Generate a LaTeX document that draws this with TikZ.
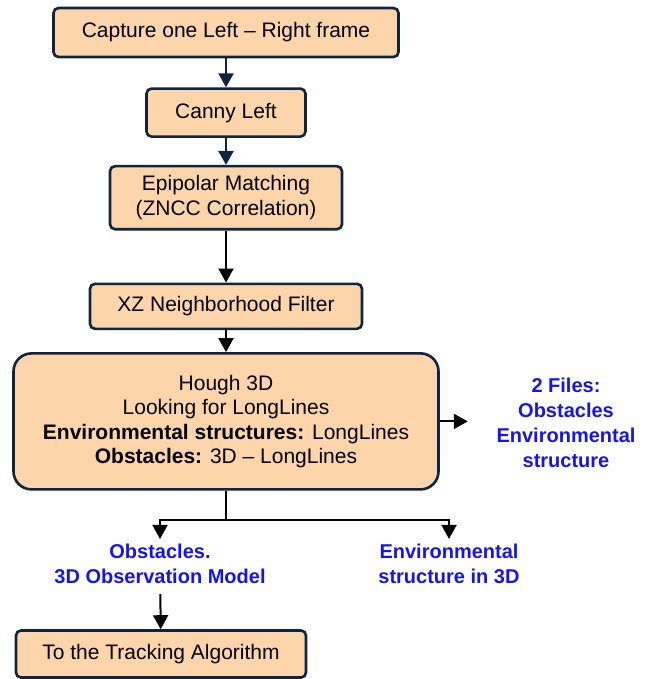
\documentclass[tikz,border=0pt]{standalone}
\usepackage{fontspec}
\setmainfont{Liberation Sans}
\usetikzlibrary{arrows.meta,positioning}

\definecolor{peach}{RGB}{252,214,170}
\definecolor{navy}{RGB}{16,36,64}
\definecolor{outblue}{RGB}{20,20,235}

\begin{document}
\begin{tikzpicture}[x=1pt,y=1pt,>={Triangle[length=14pt,width=15pt]},
                    node distance=27pt]
  \tikzstyle{box}=[rectangle,draw=navy,fill=peach,line width=2.6pt,rounded corners=5pt,
                   align=center,inner sep=0pt,font=\fontsize{21}{24.5}\selectfont]
  \tikzstyle{result}=[align=center,inner sep=0pt,text=outblue,
                      font=\fontsize{20}{25}\selectfont\bfseries]
  \tikzstyle{flow}=[->,draw=navy,line width=2.5pt]
  \tikzstyle{branch}=[->,draw=black,line width=2pt]

  \useasboundingbox (0,0) rectangle (646,-679);

  \node[box,minimum width=345pt,minimum height=49pt] (capture) at (226,-32.5)
       {Capture one Left – Right frame};
  \node[box,minimum width=159pt,minimum height=48pt] (canny) [below=29pt of capture] {Canny Left};
  \node[box,minimum width=232pt,minimum height=63pt] (epipolar) [below=of canny]
       {Epipolar Matching\\(ZNCC Correlation)};
  \node[box,minimum width=272pt,minimum height=45pt] (xz) [below=52pt of epipolar]
       {XZ Neighborhood Filter};
  \node[box,minimum width=425pt,minimum height=136pt,rounded corners=18pt] (hough) [below=22pt of xz]
       {Hough 3D\\Looking for LongLines\\\textbf{Environmental structures:} LongLines\\\textbf{Obstacles:} 3D – LongLines};

  \node[result] (files) at (566,-423) {2 Files:\\Obstacles\\Environmental\\structure};
  \node[result] (obst) at (160,-564) {Obstacles.\\3D Observation Model};
  \node[result] (env) at (449,-564) {Environmental\\structure in 3D};
  \node[box,minimum width=290pt,minimum height=47pt] (track) at (161,-654)
       {To the Tracking Algorithm};

  \coordinate (tofiles) at ([xshift=28pt]hough.east);
  \coordinate (split) at ([yshift=-29pt]hough.south);

  \path (capture) edge[flow] (canny)
        (canny) edge[flow] (epipolar)
        (epipolar) edge[branch] (xz)
        (xz) edge[branch] (hough);
  \draw[branch] (hough.east) -- (tofiles);
  \draw[branch,-] (hough.south) -- (split);
  \draw[branch,shorten >=5pt] (split) -| (obst.north);
  \draw[branch,shorten >=5pt] (split) -| (env.north);
  \draw[branch,shorten <=10pt] (obst) -- (track);
\end{tikzpicture}
\end{document}
